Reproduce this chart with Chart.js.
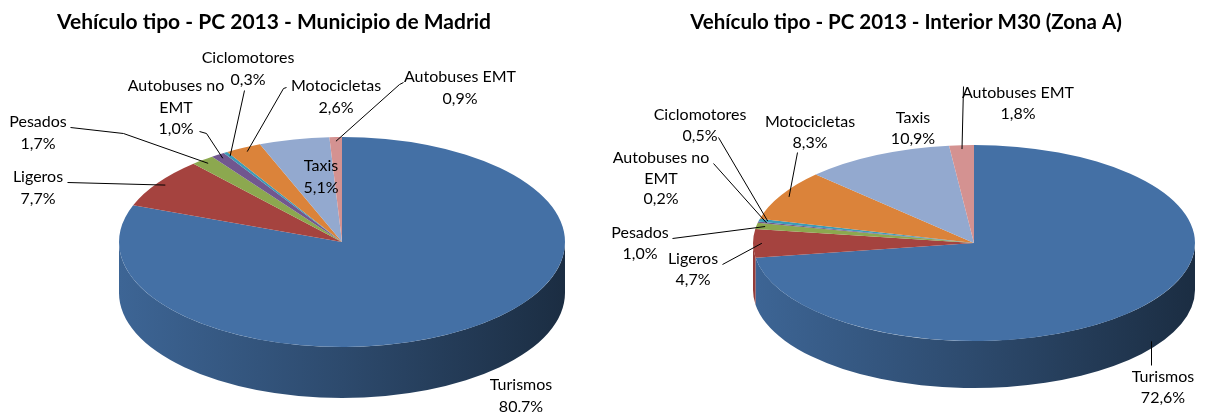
<!DOCTYPE html>
<html>
<head>
<meta charset="utf-8">
<script src="https://cdn.jsdelivr.net/npm/chart.js@4.4.1/dist/chart.umd.min.js"></script>
<style>
  html, body { margin: 0; padding: 0; background: #fff; overflow: hidden; width: 1215px; height: 412px; position: relative; }
  canvas { position: absolute; top: 0; }
  #madrid { left: -30px; }
  #m30 { left: 597px; }
</style>
</head>
<body>
<canvas id="madrid" width="608" height="412"></canvas>
<canvas id="m30" width="618" height="412"></canvas>
<script>
// Vehículo tipo - PC 2013 (porcentajes)
const categories = ['Turismos', 'Ligeros', 'Pesados', 'Autobuses no EMT', 'Ciclomotores', 'Motocicletas', 'Taxis', 'Autobuses EMT'];
const madridValues = [80.7, 7.7, 1.7, 1.0, 0.3, 2.6, 5.1, 0.9];
const m30Values = [72.6, 4.7, 1.0, 0.2, 0.5, 8.3, 10.9, 1.8];
const sliceColors = ['#4470a5', '#a5433f', '#8ca84f', '#71578f', '#3b9bb7', '#db833a', '#93a9cf', '#d49291'];

const FONT = 'Lato, "Open Sans", sans-serif';

// label text split on lines like the original
const categoryLines = categories.map(c => c === 'Autobuses no EMT' ? ['Autobuses no', 'EMT'] : [c]);

function fmtPct(v) {
    return v.toFixed(1).replace('.', ',') + '%';
}

function shade(hex, f) {
    const n = parseInt(hex.slice(1), 16);
    const r = Math.round(((n >> 16) & 255) * f);
    const g = Math.round(((n >> 8) & 255) * f);
    const b = Math.round((n & 255) * f);
    return `rgb(${r},${g},${b})`;
}

// Fake 3D: side wall first, then flatten the library's pie into an ellipse
const pie3d = {
    id: 'pie3d',
    beforeDatasetsDraw(chart, args, o) {
        const ctx = chart.ctx;
        const meta = chart.getDatasetMeta(0);
        const colors = chart.data.datasets[0].backgroundColor;
        const cx = o.cx - o.offset, cy = o.cy;

        meta.data.forEach((arc, i) => {
            const a1 = Math.max(arc.startAngle, 0);
            const a2 = Math.min(arc.endAngle, Math.PI);
            if (a2 <= a1) return;
            const g = ctx.createLinearGradient(cx - o.rx, 0, cx + o.rx, 0);
            g.addColorStop(0, shade(colors[i], 0.9));
            g.addColorStop(0.5, shade(colors[i], 0.66));
            g.addColorStop(1, shade(colors[i], 0.4));
            ctx.beginPath();
            ctx.ellipse(cx, cy, o.rx, o.ry, 0, a1, a2);
            ctx.ellipse(cx, cy + o.depth, o.rx, o.ry, 0, a2, a1, true);
            ctx.closePath();
            ctx.fillStyle = g;
            ctx.fill();
        });

        const R = meta.data[0].outerRadius;
        ctx.save();
        ctx.translate(cx, cy);
        ctx.scale(o.rx / R, o.ry / R);
        ctx.translate(-meta.data[0].x, -meta.data[0].y);
    },
    afterDatasetsDraw(chart) {
        chart.ctx.restore();
    },
    afterDraw(chart, args, o) {
        const ctx = chart.ctx;
        const meta = chart.getDatasetMeta(0);
        const values = chart.data.datasets[0].data;
        const cx = o.cx - o.offset, cy = o.cy;

        ctx.save();
        ctx.strokeStyle = '#000';
        ctx.lineWidth = 1;
        o.labels.forEach(l => {
            if (!l.leader) return;
            const arc = meta.data[l.i];
            const mid = (arc.startAngle + arc.endAngle) / 2;
            const f = 0.96;
            let ex = cx + o.rx * f * Math.cos(mid);
            let ey = cy + o.ry * f * Math.sin(mid);
            if (l.side) {
                // straight up onto the side wall
                ex = l.leader[0][0] - o.offset + 0.5;
                const t = (ex - cx) / o.rx;
                ey = cy + o.ry * Math.sqrt(1 - t * t) + o.depth * 0.85;
            }
            ctx.beginPath();
            l.leader.forEach((p, k) => {
                const x = p[0] - o.offset + 0.5, y = p[1] + 0.5;
                if (k === 0) ctx.moveTo(x, y); else ctx.lineTo(x, y);
            });
            ctx.lineTo(ex, ey);
            ctx.stroke();
        });

        ctx.fillStyle = '#000';
        ctx.font = '16px ' + FONT;
        ctx.textAlign = 'center';
        ctx.textBaseline = 'middle';
        o.labels.forEach(l => {
            const lines = categoryLines[l.i].concat([fmtPct(values[l.i])]);
            lines.forEach((t, k) => {
                ctx.fillText(t, l.x - o.offset, l.y + k * o.lineH);
            });
        });
        ctx.restore();
    }
};

// page-coordinate layout of each pie and its labels
const madridLayout = {
    offset: -30, cx: 342, cy: 242, rx: 223, ry: 105, depth: 51, lineH: 21.5,
    labels: [
        { i: 0, x: 521, y: 385 },
        { i: 1, x: 38, y: 177, leader: [[67, 182]] },
        { i: 2, x: 38, y: 122, leader: [[70, 127], [123, 133]] },
        { i: 3, x: 176, y: 86, leader: [[199, 131], [206, 133]] },
        { i: 4, x: 248, y: 58, leader: [[244, 90]] },
        { i: 5, x: 336, y: 86, leader: [[286, 87], [283, 88]] },
        { i: 6, x: 321, y: 166 },
        { i: 7, x: 460, y: 77, leader: [[403, 82], [399, 84]] }
    ]
};

const m30Layout = {
    offset: 597, cx: 974, cy: 243, rx: 221, ry: 98, depth: 47, lineH: 20.5,
    labels: [
        { i: 0, x: 1163, y: 377, leader: [[1151, 365]], side: true },
        { i: 1, x: 693, y: 259, leader: [[722, 264]] },
        { i: 2, x: 640, y: 233, leader: [[672, 238]] },
        { i: 3, x: 661, y: 158, leader: [[713, 163]] },
        { i: 4, x: 700, y: 115, leader: [[718, 137]] },
        { i: 5, x: 810, y: 122, leader: [[797, 152]] },
        { i: 6, x: 913, y: 118 },
        { i: 7, x: 1018, y: 93, leader: [[963, 86]] }
    ]
};

function makeChart(id, values, title, layout, titleSize) {
    return new Chart(document.getElementById(id), {
        type: 'pie',
        data: {
            labels: categories,
            datasets: [{
                data: values,
                backgroundColor: sliceColors,
                borderWidth: 0,
                clip: false
            }]
        },
        options: {
            responsive: false,
            animation: false,
            events: [],
            plugins: {
                legend: { display: false },
                tooltip: { enabled: false },
                title: {
                    display: true,
                    text: title,
                    color: '#000',
                    font: { family: FONT, size: titleSize, weight: 'bold' },
                    padding: { top: 10, bottom: 10 }
                },
                pie3d: layout
            }
        },
        plugins: [pie3d]
    });
}

makeChart('madrid', madridValues, 'Vehículo tipo - PC 2013 - Municipio de Madrid', madridLayout, 21);
makeChart('m30', m30Values, 'Vehículo tipo - PC 2013 - Interior M30 (Zona A)', m30Layout, 20.5);
</script>
</body>
</html>
